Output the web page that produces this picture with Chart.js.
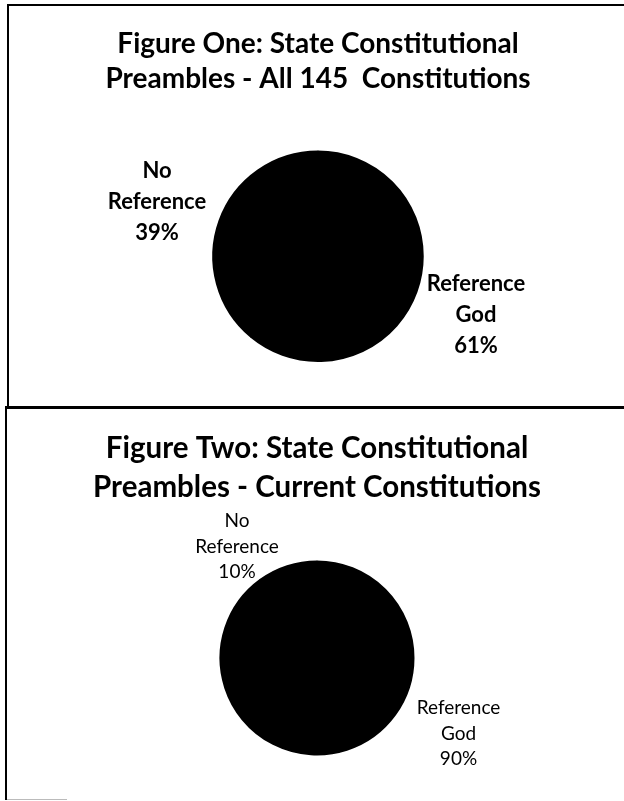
<!DOCTYPE html>
<html>
<head>
<meta charset="utf-8">
<title>State Constitutional Preambles</title>
<script src="https://cdn.jsdelivr.net/npm/chart.js@4.4.1/dist/chart.umd.min.js"></script>
<style>
  html, body { margin: 0; padding: 0; background: #fff; }
  body { width: 624px; height: 801px; position: relative; overflow: hidden; }
  canvas { position: absolute; left: 0; }
  #chartOne { top: 0; }
  #chartTwo { top: 406px; }
  .line { position: absolute; background: #000; }
</style>
</head>
<body>
<canvas id="chartOne" width="624" height="406"></canvas>
<canvas id="chartTwo" width="624" height="395"></canvas>

<!-- panel frames -->
<div class="line" style="left:7px;top:4px;width:640px;height:2px;"></div>
<div class="line" style="left:7px;top:4px;width:2px;height:403px;"></div>
<div class="line" style="left:5px;top:406px;width:640px;height:3px;"></div>
<div class="line" style="left:5px;top:406px;width:2px;height:394px;"></div>
<div class="line" style="left:7px;top:799px;width:60px;height:1px;background:#bbb;"></div>

<script>
'use strict';

// ── Data ────────────────────────────────────────────────
const TITLE_ONE = ['Figure One: State Constitutional', 'Preambles - All 145  Constitutions'];
const TITLE_TWO = ['Figure Two: State Constitutional', 'Preambles - Current Constitutions'];
const CATEGORIES = ['Reference God', 'No Reference'];
const ALL_SHARES = [61, 39];      // % of all 145 constitutions
const CURRENT_SHARES = [90, 10];  // % of current constitutions

// labels drawn outside the pie, split onto lines + percentage
const outsideLabels = {
    id: 'outsideLabels',
    afterDatasetsDraw(chart, args, opts) {
        const ctx = chart.ctx;
        const meta = chart.getDatasetMeta(0);
        const values = chart.data.datasets[0].data;
        ctx.save();
        ctx.fillStyle = opts.color;
        ctx.font = `${opts.weight} ${opts.size}px ${opts.family}`;
        ctx.textAlign = 'center';
        ctx.textBaseline = 'middle';
        meta.data.forEach((arc, i) => {
            const [dx, dy] = opts.offsets[i];
            const x = arc.x + dx;
            const y = arc.y + dy;
            const lines = chart.data.labels[i].split(' ').concat(values[i] + '%');
            const y0 = y - (lines.length - 1) / 2 * opts.lineHeight;
            lines.forEach((t, j) => ctx.fillText(t, x, y0 + j * opts.lineHeight));
        });
        ctx.restore();
    }
};

function makePie(id, title, values, cfg) {
    return new Chart(document.getElementById(id), {
        type: 'pie',
        data: {
            labels: CATEGORIES,
            datasets: [{
                data: values,
                backgroundColor: '#000',
                borderColor: '#000',
                borderWidth: 2,
                hoverOffset: 0
            }]
        },
        options: {
            responsive: false,
            devicePixelRatio: 1,
            animation: false,
            events: [],
            layout: { padding: cfg.padding },
            plugins: {
                legend: { display: false },
                tooltip: { enabled: false },
                title: {
                    display: true,
                    text: title,
                    color: '#000',
                    font: { family: 'Lato', size: cfg.titleSize, weight: 'bold', lineHeight: cfg.titleLine },
                    padding: { top: 0, bottom: cfg.titleGap }
                },
                outsideLabels: cfg.labels
            }
        },
        plugins: [outsideLabels]
    });
}

makePie('chartOne', TITLE_ONE, ALL_SHARES, {
    padding: { top: 26.5, bottom: 44, left: 12, right: 0 },
    titleSize: 28, titleLine: 1.25, titleGap: 54,
    labels: {
        family: 'Lato', size: 22, weight: 'bold', lineHeight: 31, color: '#000',
        offsets: [[158, 59], [-161, -54.5]]
    }
});

makePie('chartTwo', TITLE_TWO, CURRENT_SHARES, {
    padding: { top: 22.5, bottom: 45.5, left: 10, right: 0 },
    titleSize: 29.5, titleLine: 39 / 29.5, titleGap: 54,
    labels: {
        family: 'Lato', size: 19, weight: 'normal', lineHeight: 25.5, color: '#000',
        offsets: [[141.5, 75.5], [-80, -111.5]]
    }
});
</script>
</body>
</html>
